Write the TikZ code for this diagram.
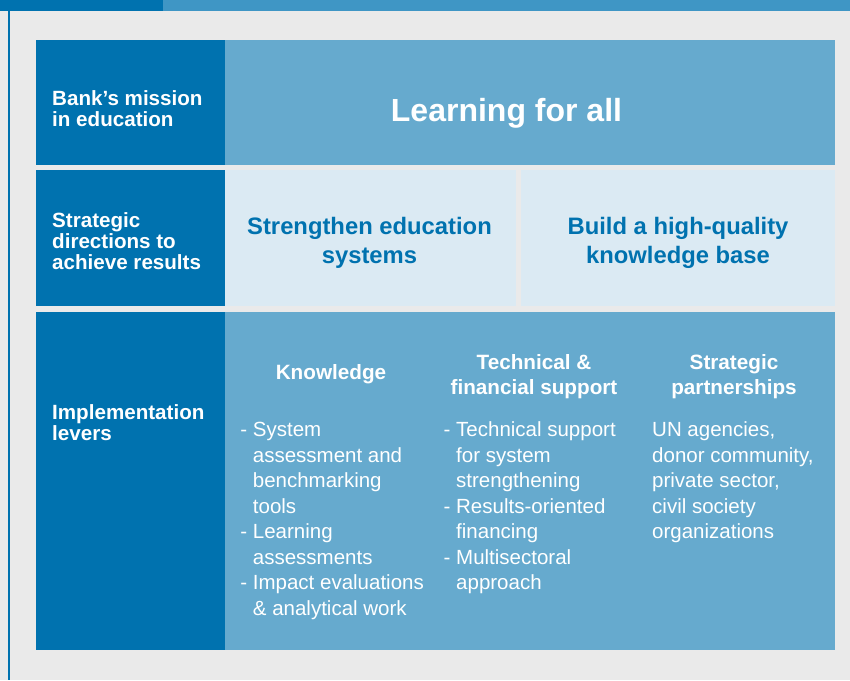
\documentclass[tikz,border=0pt]{standalone}
\usepackage{fontspec}
\setmainfont{Liberation Sans}
\definecolor{pagegray}{RGB}{234,234,234}
\definecolor{deepblue}{RGB}{0,114,175}
\definecolor{barblue}{RGB}{63,150,197}
\definecolor{midblue}{RGB}{102,170,206}
\definecolor{paleblue}{RGB}{219,234,243}
\newcommand{\levdash}{\leavevmode\llap{- }}

\begin{document}
\begin{tikzpicture}[x=1pt, y=-1pt,
    rowhead/.style={text=white, inner sep=0, anchor=base west, align=left,
        font=\bfseries\fontsize{20.6}{21}\selectfont},
    direction/.style={text=deepblue, inner sep=0, anchor=base, align=center,
        font=\bfseries\fontsize{23.8}{29}\selectfont},
    levhead/.style={text=white, inner sep=0, anchor=base, align=center,
        font=\bfseries\fontsize{20.7}{25.5}\selectfont},
    levlist/.style={text=white, inner sep=0, anchor=base west, align=left,
        font=\fontsize{20.5}{25.5}\selectfont}]
    \useasboundingbox (0,0) rectangle (850,680);
    \fill[pagegray] (0,0) rectangle (850,680);

    % top band and left rule
    \fill[deepblue] (0,0) rectangle (163,11);
    \fill[barblue] (163,0) rectangle (850,11);
    \fill[deepblue] (8,11) rectangle (9.6,680);

    % cells
    \fill[deepblue] (36,40) rectangle (225,165);
    \fill[midblue] (225,40) rectangle (835,165);
    \fill[deepblue] (36,170) rectangle (225,306);
    \fill[paleblue] (225,170) rectangle (516,306);
    \fill[paleblue] (521,170) rectangle (835,306);
    \fill[deepblue] (36,312) rectangle (225,650);
    \fill[midblue] (225,312) rectangle (835,650);

    % base anchor sits on the last line
    \node[rowhead] at (52, 126)(mission){Bank’s mission\\in education};
    \node[text=white, inner sep=0, anchor=base, font=\bfseries\fontsize{32}{36}\selectfont]
        at (506.5, 121.7)(goal){Learning for all};

    \node[rowhead] at (52, 269.5)(directions){Strategic\\directions to\\achieve results};
    \node[direction] at (369.5, 263.3)(systems){Strengthen education\\systems};
    \node[direction] at (678, 263.3)(base){Build a high-quality\\knowledge base};

    \node[rowhead] at (52, 440)(levers){Implementation\\levers};
    \node[levhead] at (331, 379.5)(knowledge){Knowledge};
    \node[levhead] at (534, 394.5)(support){Technical \&\\financial support};
    \node[levhead] at (734, 394.5)(partners){Strategic\\partnerships};

    \node[levlist] at (252.7, 615.2)(knowlist){\levdash System\\assessment and\\benchmarking\\tools\\
        \levdash Learning\\assessments\\\levdash Impact evaluations\\\& analytical work};
    \node[levlist] at (456, 589.7)(supplist){\levdash Technical support\\for system\\strengthening\\
        \levdash Results-oriented\\financing\\\levdash Multisectoral\\approach};
    \node[levlist] at (652, 538.7)(partlist){UN agencies,\\donor community,\\private sector,\\civil society\\organizations};
\end{tikzpicture}
\end{document}
